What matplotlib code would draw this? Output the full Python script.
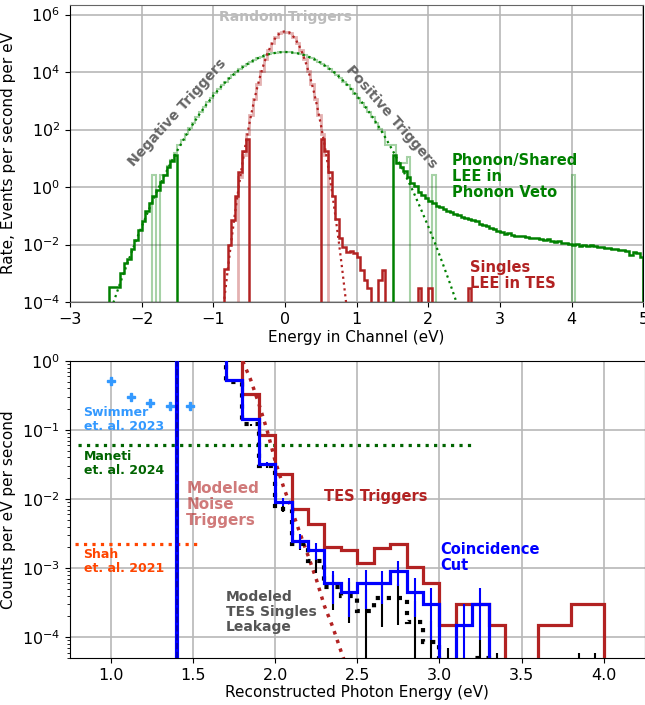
import numpy as np
import matplotlib
matplotlib.use("Agg")
import matplotlib.pyplot as plt
from matplotlib.ticker import NullLocator

# ---------- top panel: channel spectra, log10(rate per eV), 0.05 eV bins ----------
bw_top = 0.05

phonon_left_start = -2.45
phonon_left = [-3.47, -3.47, -3.47, -3.0, -2.63, -2.51, -2.16, -1.84, -1.49, -1.18,
               -0.85, -0.56, -0.31, -0.10, 0.16, 0.43, 0.69, 0.92, 1.12]

phonon_right_start = 1.5
phonon_right = [1.12, 0.85, 0.70, 0.55, 0.35, 0.15, 0.02, -0.16, -0.27, -0.38,
                -0.47, -0.56, -0.65, -0.70, -0.77, -0.82, -0.88, -0.94, -0.96, -1.05,
                -1.07, -1.12, -1.15, -1.19, -1.30, -1.32, -1.36, -1.42, -1.47, -1.52,
                -1.58, -1.62, -1.60, -1.66, -1.70, -1.72, -1.71, -1.75, -1.77, -1.76,
                -1.79, -1.80, -1.83, -1.82, -1.86, -1.90, -1.88, -1.94, -1.96, -1.98,
                -2.01, -1.99, -2.04, -2.02, -2.05, -2.03, -2.06, -2.08, -2.07, -2.11,
                -2.13, -2.16, -2.14, -2.18, -2.20, -2.23, -2.38, -2.25, -2.30, -2.42]

phonon_random_start = -1.85
phonon_random = [0.42, np.nan, 0.42, 0.42, 0.72, 0.95, 1.20, 1.45, 1.63, 1.86,
                 2.05, 2.24, 2.44, 2.62, 2.79, 2.95, 3.11, 3.26, 3.40, 3.55,
                 3.67, 3.80, 3.91, 4.01, 4.11, 4.20, 4.28, 4.36, 4.43, 4.49,
                 4.54, 4.58, 4.62, 4.65, 4.68, 4.69, 4.70, 4.70, 4.69, 4.68,
                 4.65, 4.62, 4.58, 4.54, 4.49, 4.43, 4.36, 4.28, 4.20, 4.11,
                 4.01, 3.91, 3.79, 3.67, 3.54, 3.40, 3.25, 3.10, 2.94, 2.78,
                 2.60, 2.42, 2.23, 2.03, 1.92, 1.45, 1.45, 1.45, 0.83, 0.83,
                 0.83, 1.06, np.nan, np.nan, np.nan, np.nan, np.nan, np.nan, 0.42]
phonon_random_spike = (4.0, 0.42)

tes_random_start = -0.65
tes_random = [0.34, 1.12, 1.84, 2.49, 3.07, 3.59, 4.05, 4.44, 4.76, 5.02,
              5.22, 5.35, 5.41, 5.41, 5.35, 5.22, 5.02, 4.76, 4.44, 4.05,
              3.59, 3.07, 2.49, 1.84, 1.12]

tes_left_start = -0.85
tes_left = [-2.85, -2.02, -1.14, -0.31, 0.53, 1.26, 1.67]

tes_right_start = 0.5
tes_right = [1.66, 1.27, 0.54, -0.31, -1.10, -1.78, -2.10, -2.25, -2.21, -2.28,
             -2.45, -2.89, -3.23, -3.52, np.nan, np.nan, -3.23, -2.89, np.nan, np.nan,
             np.nan, np.nan, np.nan, np.nan, np.nan, np.nan, np.nan, -3.52, np.nan, np.nan,
             -3.52, np.nan, np.nan, np.nan, np.nan, np.nan, np.nan, np.nan, np.nan, np.nan,
             np.nan, -3.52]

phonon_fit_x = np.round(np.arange(-2.5, 2.51, 0.1), 2)
phonon_fit = [-4.80, -4.06, -3.34, -2.66, -2.00, -1.38, -0.79, -0.22, 0.31, 0.81,
              1.28, 1.72, 2.13, 2.51, 2.86, 3.18, 3.47, 3.73, 3.96, 4.15,
              4.32, 4.46, 4.56, 4.64, 4.68, 4.70, 4.68, 4.64, 4.56, 4.46,
              4.32, 4.15, 3.96, 3.73, 3.47, 3.18, 2.86, 2.51, 2.13, 1.72,
              1.28, 0.81, 0.31, -0.22, -0.79, -1.38, -2.00, -2.66, -3.34, -4.06, -4.80]

tes_fit_x = np.round(np.arange(-0.9, 0.91, 0.05), 2)
tes_fit = [-5.11, -3.97, -2.90, -1.89, -0.95, -0.07, 0.74, 1.49, 2.17, 2.79,
           3.34, 3.83, 4.25, 4.61, 4.90, 5.13, 5.29, 5.39, 5.42, 5.39,
           5.29, 5.13, 4.90, 4.61, 4.25, 3.83, 3.34, 2.79, 2.17, 1.49,
           0.74, -0.07, -0.95, -1.89, -2.90, -3.97, -5.11]

# ---------- bottom panel: photon spectrum, log10(counts/eV/s), 0.1 eV bins ----------
bw_bot = 0.1

tes_trig_start = 1.7
tes_trig = [1.5, -0.48, -1.07, -1.64, -2.14, -2.36, -2.69, -2.74, -2.92, -2.71,
            -2.65, -2.98, -3.22, -3.82, -3.52, -3.52, -3.82, np.nan, np.nan, -3.82,
            -3.82, -3.52, -3.52]

coinc_start = 1.6
coinc = [0.5, -0.274, -0.84, -1.49, -2.04, -2.60, -2.74, -3.22, -3.34, -3.22,
         -3.22, -3.04, -3.34, -3.52, np.nan, -3.82, -3.52]
coinc_err = [0.0, 0.009, 0.005, 0.0022, 0.0012, 0.0006, 0.0005, 0.0003, 0.00026, 0.00035,
             0.0003, 0.00037, 0.00026, 0.00021, 0.0, 0.00015, 0.00021]

leak_start = 1.6
leak = [0.5, -0.31, -0.92, -1.52, -2.14, -2.65, -2.90, -3.28, -3.40, -3.62,
        -3.43, -3.43, -3.78, -4.07, -4.40, -4.50, -4.30, -4.40, np.nan, np.nan,
        np.nan, np.nan, -4.50, -4.50]
leak_err = [0.0, 0.008, 0.004, 0.002, 0.0007, 0.0004, 0.0004, 0.00028, 0.00024, 0.00025,
            0.00023, 0.00022, 0.00017, 0.000085, 0.00003, 0.00002, 0.00004, 0.00002, 0.0, 0.0,
            0.0, 0.0, 0.000028, 0.000028]

noise_x = [1.78, 1.85, 1.90, 1.95, 2.00, 2.05, 2.10, 2.15, 2.20, 2.25, 2.30, 2.35, 2.40, 2.43]
noise_model = [0.12, -0.27, -0.62, -1.00, -1.45, -1.82, -2.15, -2.49, -2.82, -3.16,
               -3.55, -3.85, -4.20, -4.40]

swimmer_x = [1.0, 1.12, 1.24, 1.36, 1.48]
swimmer_y = [0.51, 0.305, 0.25, 0.224, 0.224]
maneti_rate = 0.06
shah_rate = 0.00226
threshold = 1.4

TINY = 1e-12


def lin(logvals):
    return np.nan_to_num(10.0 ** np.asarray(logvals, dtype=float), nan=TINY)


def hist(ax, start, width, logvals, open_left=False, **kw):
    # pad with empty bins so the outer edges drop to the floor
    vals = lin(logvals)
    edges = start + width * np.arange(len(vals) + 1)
    vals = np.append(vals, TINY)
    edges = np.append(edges, edges[-1] + width)
    if not open_left:
        vals = np.insert(vals, 0, TINY)
        edges = np.insert(edges, 0, edges[0] - width)
    ax.stairs(vals, edges, baseline=None, **kw)
    return edges[1:-1] if not open_left else edges[:-1]


fig = plt.figure(figsize=(6.45, 7.05), dpi=100)
ax1 = fig.add_axes([0.1085, 0.5716, 0.889, 0.4217])
ax2 = fig.add_axes([0.1085, 0.0667, 0.891, 0.4213])

# ---- top ----
ax1.set_yscale("log")
hist(ax1, phonon_random_start, bw_top, phonon_random, color="green", alpha=0.35, lw=1.5)
hist(ax1, phonon_random_spike[0], bw_top, [phonon_random_spike[1]], color="green", alpha=0.35, lw=1.5)
hist(ax1, tes_random_start, bw_top, tes_random, color="firebrick", alpha=0.35, lw=2)
hist(ax1, phonon_left_start, bw_top, phonon_left, color="green", lw=1.8)
hist(ax1, phonon_right_start, bw_top, phonon_right, color="green", lw=1.8)
hist(ax1, tes_left_start, bw_top, tes_left, color="firebrick", lw=1.8)
hist(ax1, tes_right_start, bw_top, tes_right, color="firebrick", lw=1.8)
ax1.plot(phonon_fit_x, lin(phonon_fit), ls=":", color="green", lw=1.6)
ax1.plot(tes_fit_x, lin(tes_fit), ls=":", color="firebrick", lw=1.6)

ax1.set_xlim(-3, 5)
ax1.set_ylim(1e-4, 2.2e6)
ax1.set_yticks([1e-4, 1e-2, 1e0, 1e2, 1e4, 1e6])
ax1.yaxis.set_minor_locator(NullLocator())
ax1.set_xticks(range(-3, 6))
ax1.grid(True, color="#b8b8b8", lw=1.2)
ax1.set_axisbelow(True)
ax1.spines["top"].set_color("#666666")
ax1.spines["bottom"].set_color("#666666")
ax1.tick_params(labelsize=11.5)
ax1.set_xlabel("Energy in Channel (eV)", fontsize=11, labelpad=2)
ax1.set_ylabel("Rate, Events per second per eV", fontsize=11)

ax1.text(0.0, 8.3e5, "Random Triggers", color="#bbbbbb", fontsize=10, fontweight="bold",
         ha="center", va="center")
ax1.text(-1.50, 400, "Negative Triggers", color="#666666", fontsize=10, fontweight="bold",
         ha="center", va="center", rotation=48, rotation_mode="anchor")
ax1.text(1.48, 280, "Positive Triggers", color="#666666", fontsize=10, fontweight="bold",
         ha="center", va="center", rotation=-49, rotation_mode="anchor")
ax1.text(2.33, 2.3, "Phonon/Shared\nLEE in\nPhonon Veto", color="green", fontsize=10.5,
         fontweight="bold", ha="left", va="center", linespacing=1.1)
ax1.text(2.58, 8.3e-4, "Singles\nLEE in TES", color="firebrick", fontsize=10.5,
         fontweight="bold", ha="left", va="center", linespacing=1.1)

# ---- bottom ----
ax2.set_yscale("log")
hist(ax2, tes_trig_start, bw_bot, tes_trig, open_left=True, color="firebrick", lw=2.3, zorder=3)
leak_edges = hist(ax2, leak_start, bw_bot, leak, open_left=True, color="black", lw=3, ls=":", zorder=4)
leak_c = leak_edges[:-1] + bw_bot / 2
ax2.errorbar(leak_c, lin(leak), yerr=leak_err, fmt="none", ecolor="black", elinewidth=1.5, zorder=4)
coinc_edges = hist(ax2, coinc_start, bw_bot, coinc, open_left=True, color="blue", lw=2.3, zorder=5)
coinc_c = coinc_edges[:-1] + bw_bot / 2
ax2.errorbar(coinc_c, lin(coinc), yerr=coinc_err, fmt="none", ecolor="blue", elinewidth=1.5, zorder=5)
ax2.plot(noise_x, lin(noise_model), ls=":", color="firebrick", lw=2.5, zorder=3)

ax2.axvline(threshold, color="blue", lw=3, zorder=6)
ax2.axvline(threshold, color="#0000aa", lw=1.2, ls="--", zorder=6)
ax2.plot(swimmer_x, swimmer_y, "P", color="#3399ff", ms=6, ls="none")
ax2.hlines(maneti_rate, 0.8, 3.2, colors="darkgreen", linestyles=":", lw=2.3)
ax2.hlines(shah_rate, 0.78, 1.53, colors="orangered", linestyles=":", lw=2.3)

ax2.set_xlim(0.75, 4.25)
ax2.set_ylim(5e-5, 1)
ax2.set_xticks(np.arange(1.0, 4.01, 0.5))
ax2.grid(True, which="major", color="#b8b8b8", lw=1.2)
ax2.set_axisbelow(True)
ax2.tick_params(labelsize=11.5)
ax2.set_xlabel("Reconstructed Photon Energy (eV)", fontsize=11, labelpad=2)
ax2.set_ylabel("Counts per eV per second", fontsize=11)

ax2.text(0.833, 0.141, "Swimmer\net. al. 2023", color="#3399ff", fontsize=9, fontweight="bold",
         ha="left", va="center", linespacing=1.1)
ax2.text(0.833, 0.0327, "Maneti\net. al. 2024", color="darkgreen", fontsize=9, fontweight="bold",
         ha="left", va="center", linespacing=1.1)
ax2.text(0.833, 0.00123, "Shah\net. al. 2021", color="orangered", fontsize=9, fontweight="bold",
         ha="left", va="center", linespacing=1.1)
ax2.text(1.458, 8.4e-3, "Modeled\nNoise\nTriggers", color="firebrick", alpha=0.6, fontsize=11,
         fontweight="bold", ha="left", va="center", linespacing=1.1)
ax2.text(2.30, 0.0109, "TES Triggers", color="firebrick", fontsize=10.5, fontweight="bold",
         ha="left", va="center")
ax2.text(3.004, 1.43e-3, "Coincidence\nCut", color="blue", fontsize=10.5, fontweight="bold",
         ha="left", va="center", linespacing=1.1)
ax2.text(1.70, 2.32e-4, "Modeled\nTES Singles\nLeakage", color="#555555", fontsize=10,
         fontweight="bold", ha="left", va="center", linespacing=1.1)

fig.savefig("out.png", dpi=100)
